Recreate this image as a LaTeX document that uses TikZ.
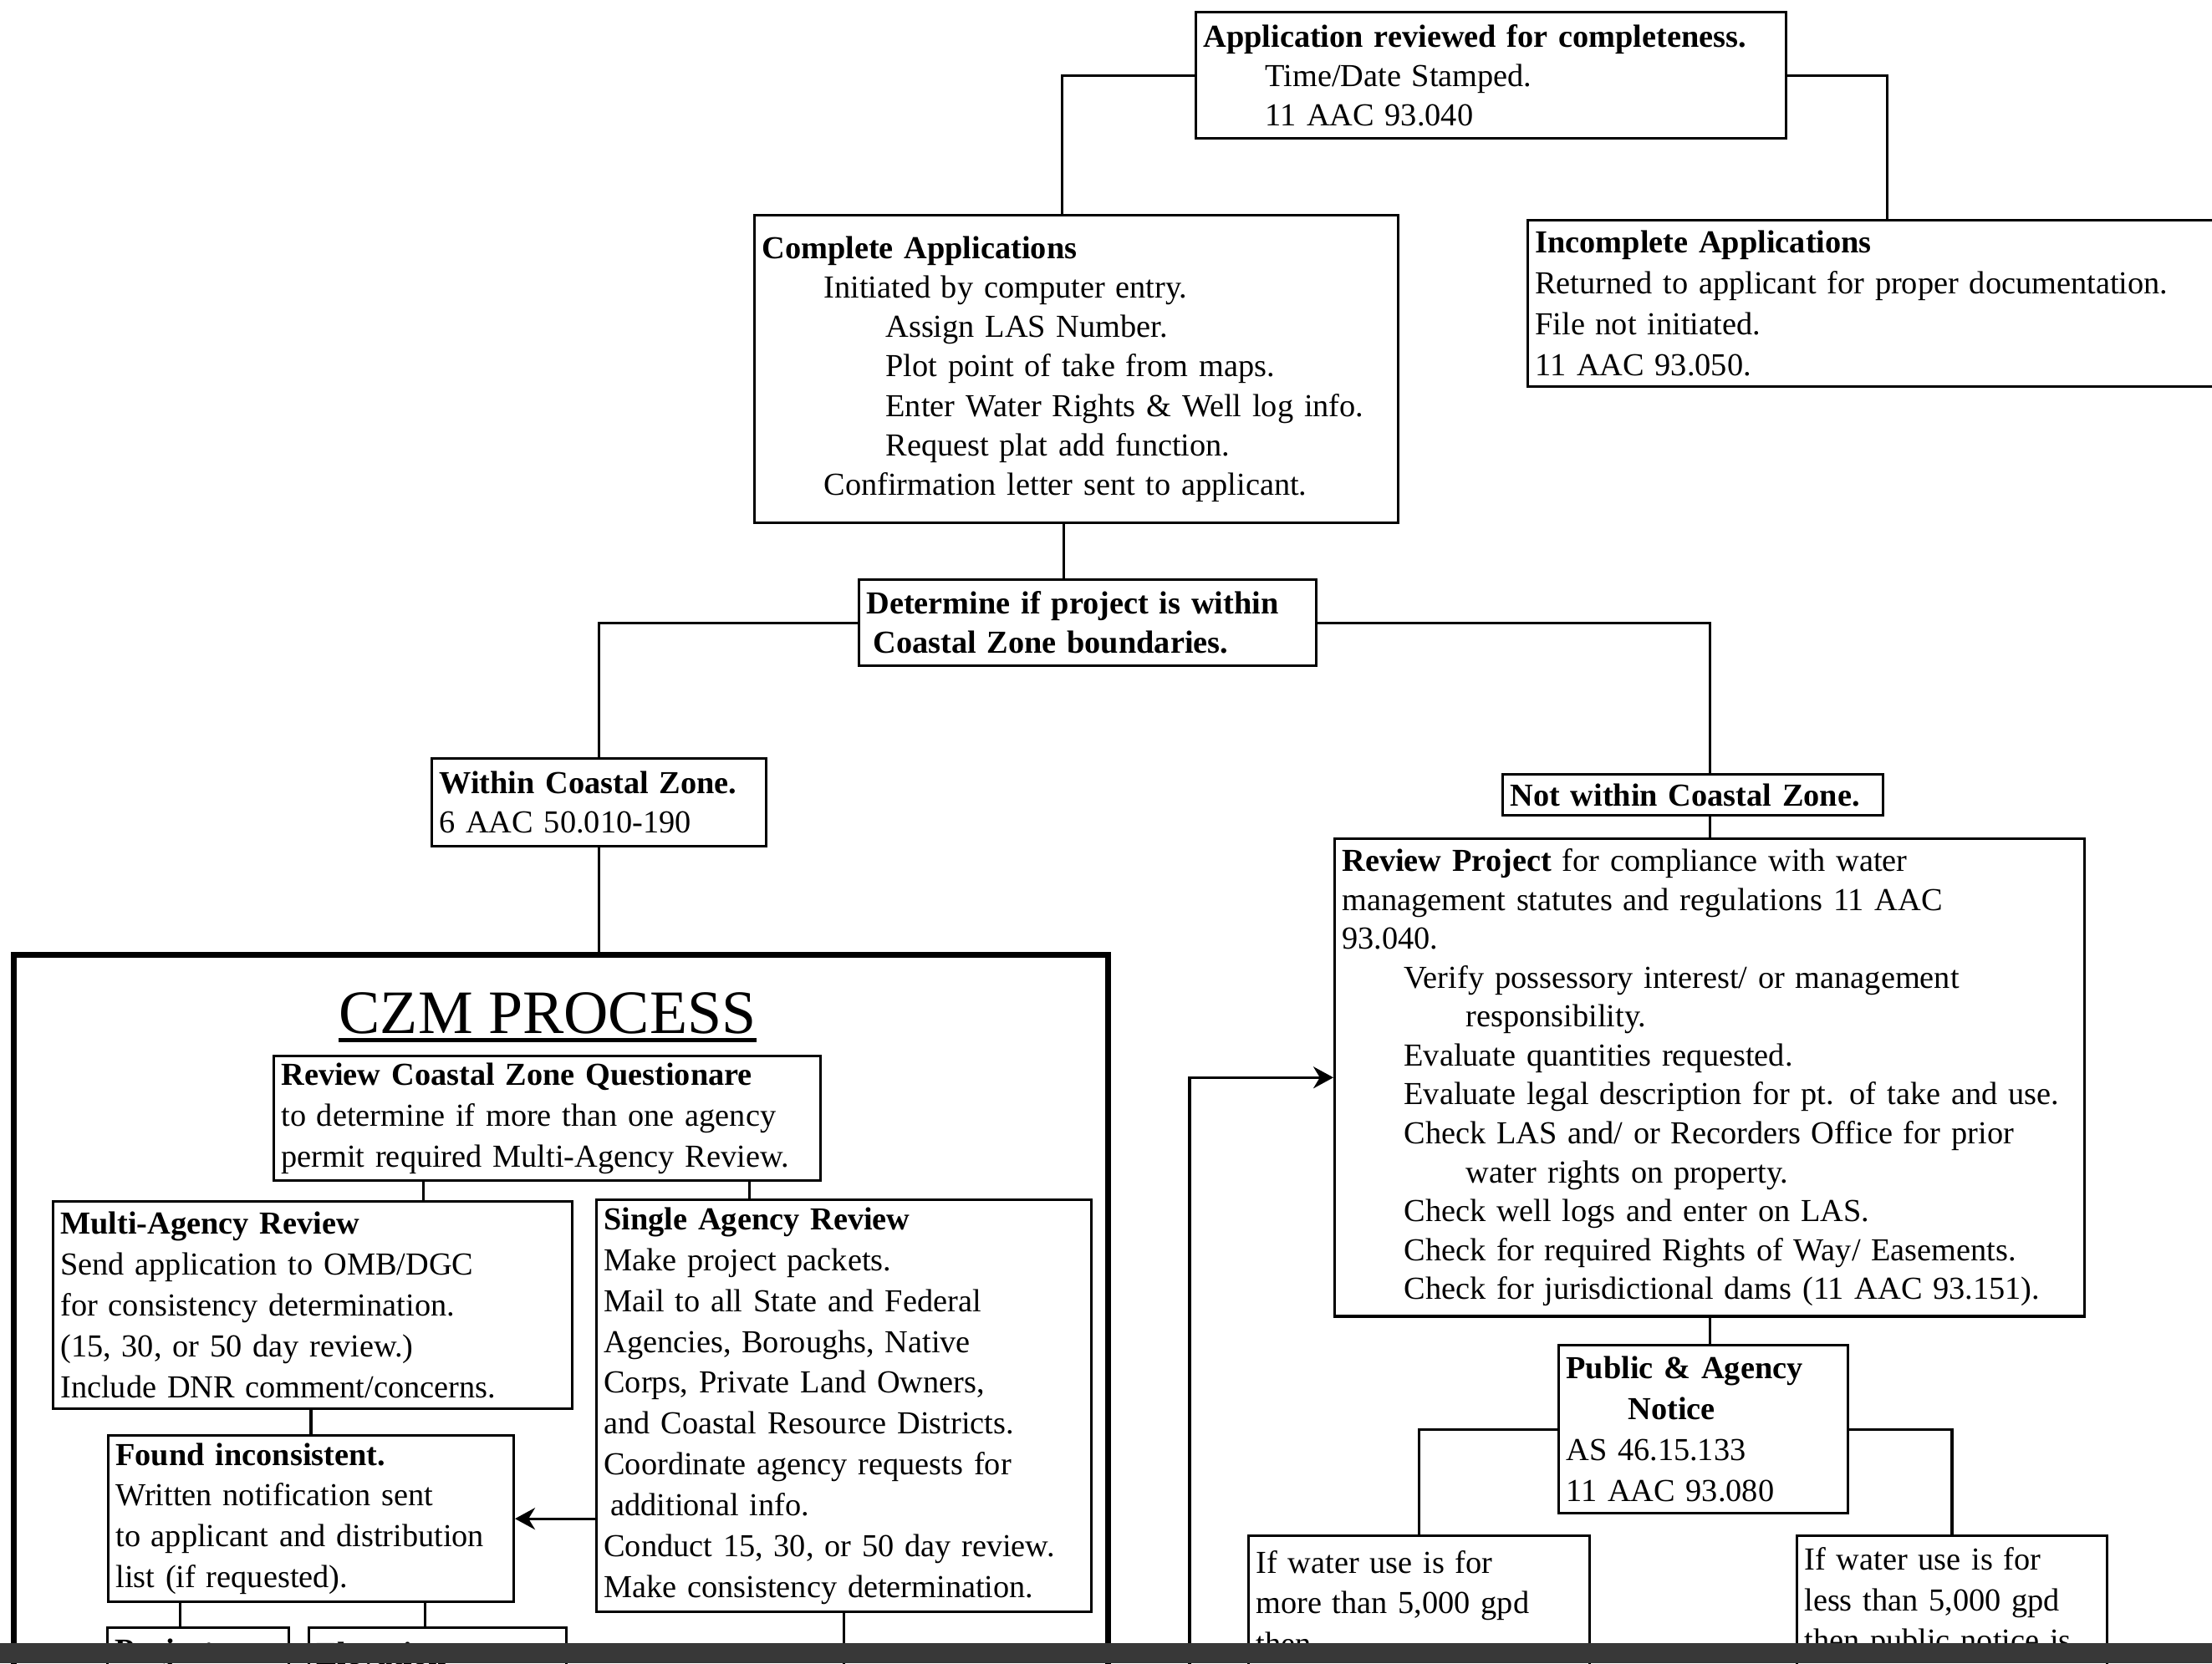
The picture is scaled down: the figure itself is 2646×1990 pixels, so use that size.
\documentclass[tikz,border=0pt]{standalone}
\usepackage{fontspec}
\setmainfont{Liberation Serif}
\usetikzlibrary{calc,positioning,arrows.meta}
\def\IndA{\hspace*{0.74cm}}
\def\IndB{\hspace*{1.48cm}}
\def\BoxLine{0.9pt}

\begin{document}
\begin{tikzpicture}[x=0.01cm,y=-0.01cm,
  procbox/.style={draw,line width=\BoxLine,anchor=north west,align=left,inner xsep=2.5pt,inner ysep=2pt,font=\fontsize{10.9}{13.4}\selectfont},
  tallbox/.style={procbox,font=\fontsize{10.9}{13.9}\selectfont},
  link/.style={line width=\BoxLine},
  flow/.style={line width=\BoxLine,-{Stealth[length=0.24cm,width=0.26cm]}},
  czmframe/.style={draw,line width=2pt,anchor=north west,inner sep=0pt}]
\useasboundingbox (0,0) rectangle (2646,1990);
\clip (0,0) rectangle (2646,1990);
% 
\node[procbox,text width=6.88cm,minimum height=1.51cm] (app) at (1429,13)
  {\textbf{Application reviewed for completeness.}\\ \IndA Time/Date Stamped.\\ \IndA 11 AAC 93.040};
\node[procbox,text width=7.52cm,minimum height=3.68cm] (comp) at (901,256)
  {\textbf{Complete Applications}\\
   \IndA Initiated by computer entry.\\
   \IndB Assign LAS Number.\\
   \IndB Plot point of take from maps.\\
   \IndB Enter Water Rights \& Well log info.\\
   \IndB Request plat add function.\\
   \IndA Confirmation letter sent to applicant.};
\node[tallbox,text width=8.42cm,minimum height=1.99cm] (incomp) at (1826,262)
  {\textbf{Incomplete Applications}\\ Returned to applicant for proper documentation.\\ File not initiated.\\ 11 AAC 93.050.};
\node[procbox,text width=5.29cm,minimum height=1.03cm] (det) at (1026,692)
  {\textbf{Determine if project is within}\\ \hspace*{0.08cm}\textbf{Coastal Zone boundaries.}};
% 
\node[procbox,text width=3.82cm,minimum height=1.05cm] (within) at (515,906)
  {\textbf{Within Coastal Zone.}\\ 6 AAC 50.010-190};
\node[procbox,text width=4.37cm,minimum height=0.49cm] (notw) at (1796,925)
  {\textbf{Not within Coastal Zone.}};
\node[procbox,font=\fontsize{10.9}{13.25}\selectfont,text width=8.79cm,minimum height=5.71cm] (review) at (1595,1002)
  {\textbf{Review Project} for compliance with water\\
   management statutes and regulations 11 AAC\\
   93.040.\\
   \IndA Verify possessory interest/ or management\\
   \IndB responsibility.\\
   \IndA Evaluate quantities requested.\\
   \IndA Evaluate legal description for pt. of take and use.\\
   \IndA Check LAS and/ or Recorders Office for prior\\
   \IndB water rights on property.\\
   \IndA Check well logs and enter on LAS.\\
   \IndA Check for required Rights of Way/ Easements.\\
   \IndA Check for jurisdictional dams (11 AAC 93.151).};
\node[tallbox,text width=3.28cm,minimum height=2.01cm] (public) at (1863,1608)
  {\textbf{Public \& Agency}\\ \IndA\textbf{Notice}\\ AS 46.15.133\\ 11 AAC 93.080};
\node[tallbox,text width=3.90cm,minimum height=1.60cm] (more) at (1492,1836)
  {If water use is for\\ more than 5,000 gpd\\ then.};
\node[tallbox,text width=3.53cm,minimum height=1.60cm] (less) at (2148,1836)
  {If water use is for\\ less than 5,000 gpd\\ then public notice is};
% CZM PROCESS frame
\node[czmframe,minimum width=13.08cm,minimum height=9.5cm] (czm) at (13,1139) {};
\node[font=\fontsize{21}{24}\selectfont,inner sep=0pt,anchor=base] (title) at (655,1236) {CZM PROCESS};
\draw[line width=1.5pt] ([yshift=-2.5pt]title.base west) -- ([yshift=-2.5pt]title.base east);
\node[tallbox,text width=6.36cm,minimum height=1.49cm] (czq) at (326,1262)
  {\textbf{Review Coastal Zone Questionare}\\ to determine if more than one agency\\ permit required Multi-Agency Review.};
\node[tallbox,text width=6.03cm,minimum height=2.48cm] (multi) at (62,1436)
  {\textbf{Multi-Agency Review}\\ Send application to OMB/DGC\\ for consistency determination.\\ (15, 30, or 50 day review.)\\ Include DNR comment/concerns.};
\node[tallbox,text width=5.74cm,minimum height=4.93cm] (single) at (712,1434)
  {\textbf{Single Agency Review}\\
   Make project packets.\\
   Mail to all State and Federal\\
   Agencies, Boroughs, Native\\
   Corps, Private Land Owners,\\
   and Coastal Resource Districts.\\
   Coordinate agency requests for\\
   \hspace*{0.08cm}additional info.\\
   Conduct 15, 30, or 50 day review.\\
   Make consistency determination.};
\node[tallbox,text width=4.67cm,minimum height=1.99cm] (found) at (128,1716)
  {\textbf{Found inconsistent.}\\ Written notification sent\\ to applicant and distribution\\ list (if requested).};
\node[procbox,text width=1.99cm,minimum height=0.62cm] (proj) at (127,1946) {\textbf{Project}};
\node[procbox,text width=2.90cm,minimum height=0.62cm] (elev) at (368,1946) {\textbf{Elevation}};
% 
\coordinate (singleout) at (1008,2010);
\coordinate (loopin) at (1423,2010);
\coordinate (q1) at ($(czq.south west)!0.275!(czq.south east)$);
\coordinate (q2) at ($(czq.south west)!0.868!(czq.south east)$);
\coordinate (f1) at ($(found.south west)!0.18!(found.south east)$);
\coordinate (f2) at ($(found.south west)!0.78!(found.south east)$);
% 
\draw[link] (app.west) -| ([xshift=-0.17cm]comp.north);
\draw[link] (app.east) -| (incomp.north);
\draw[link] ([xshift=-0.15cm]comp.south) -- ([xshift=-0.15cm]comp.south |- det.north);
\draw[link] (det.west) -| (within.north);
\draw[link] (det.east) -| (notw.north -| review.north);
\draw[link] (notw.south -| review.north) -- (review.north);
\draw[link] (within.south) -- (within.south |- czm.north);
\draw[link] (q1) -- (q1 |- multi.north);
\draw[link] (q2) -- (q2 |- single.north);
\draw[link] (found.north |- multi.south) -- (found.north);
\draw[flow] (single.west |- found.east) -- (found.east);
\draw[link] (f1) -- (f1 |- proj.north);
\draw[link] (f2) -- (f2 |- elev.north);
\draw[link] (single.south) -- (single.south |- singleout);
\draw[link] (review.south) -- (review.south |- public.north);
\draw[link] (public.west) -| (more.north);
\draw[link] (public.east) -| (less.north);
\draw[flow] (loopin) |- (review.west);
% scan edge
\fill[black!78] (0,1966) rectangle (2646,1990);
\end{tikzpicture}
\end{document}
